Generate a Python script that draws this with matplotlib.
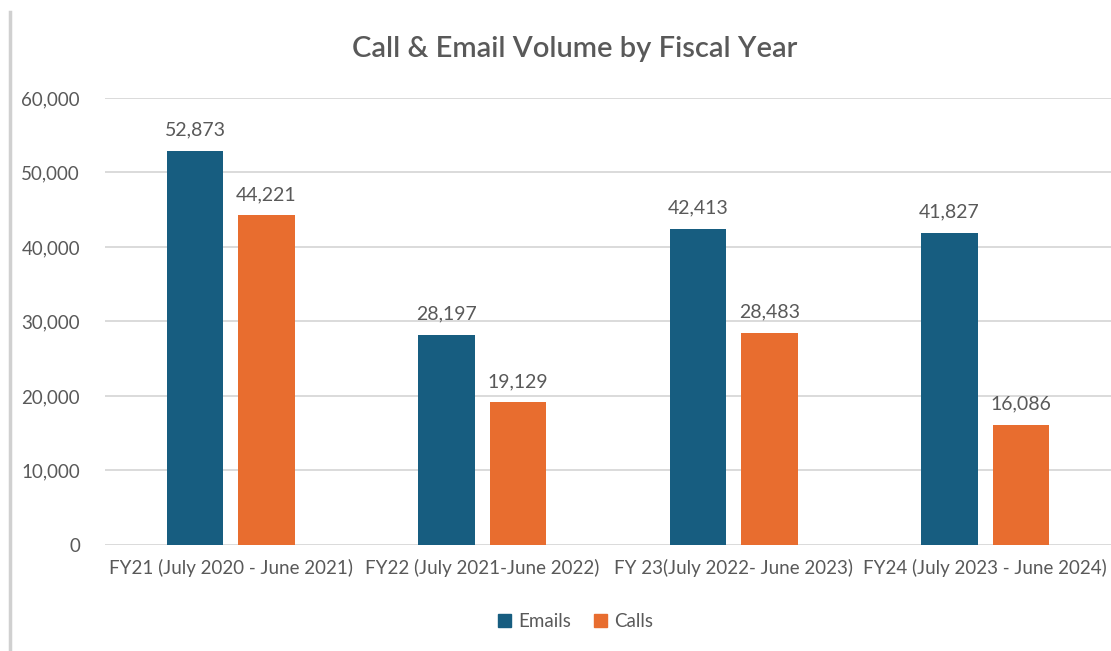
import matplotlib
matplotlib.use("Agg")
import matplotlib.pyplot as plt
from matplotlib.lines import Line2D
from matplotlib.patches import Patch
import numpy as np

categories = ["FY21 (July 2020 - June 2021)", "FY22 (July 2021-June 2022)",
              "FY 23(July 2022- June 2023)", "FY24 (July 2023 - June 2024)"]
emails = [52873, 28197, 42413, 41827]
calls = [44221, 19129, 28483, 16086]
series_names = ["Emails", "Calls"]
yticks = [0, 10000, 20000, 30000, 40000, 50000, 60000]

BLUE = "#175d80"
ORANGE = "#e86d2f"
TEXT = "#595959"
GRID = "#d4d4d4"

plt.rcParams['font.family'] = ['Lato', 'DejaVu Sans']

fig = plt.figure(figsize=(11.11, 6.51), dpi=100)
ax = fig.add_axes([0.0945, 0.163, 0.9055, 0.6866])

x = np.arange(len(categories))
w = 0.226
off = 0.142
b1 = ax.bar(x - off, emails, w, color=BLUE, zorder=3)
b2 = ax.bar(x + off, calls, w, color=ORANGE, zorder=3)

for bars in (b1, b2):
    for r in bars:
        ax.annotate(f"{int(r.get_height()):,}", (r.get_x() + r.get_width() / 2, r.get_height()),
                    xytext=(0, 9), textcoords="offset points", ha="center", va="bottom",
                    fontsize=14, color=TEXT)

ax.set_xlim(-0.5, 3.5)
ax.set_ylim(0, 60000)
ax.set_yticks(yticks)
ax.set_yticklabels([f"{v:,}" for v in yticks])
ax.set_xticks(x)
ax.set_xticklabels(categories)
ax.tick_params(axis='both', length=0, colors=TEXT, labelsize=13.5)
ax.tick_params(axis='y', pad=18)
ax.tick_params(axis='x', pad=10)
ax.grid(axis='y', color=GRID, linewidth=1.2, zorder=0)
for s in ax.spines.values():
    s.set_visible(False)

fig.text(0.5175, 0.925, "Call & Email Volume by Fiscal Year", ha="center", va="center",
         fontsize=21, fontweight="semibold", color=TEXT)

handles = [Patch(color=BLUE), Patch(color=ORANGE)]
fig.legend(handles, series_names, loc="center", bbox_to_anchor=(0.518, 0.045), ncol=2,
           frameon=False, fontsize=13.5, labelcolor=TEXT, handlelength=0.7, handleheight=0.7,
           handletextpad=0.4, columnspacing=1.2)

fig.add_artist(Line2D([0.009, 0.009], [0.0, 0.982], color="#d0d0d0", linewidth=2.5,
                      transform=fig.transFigure))

fig.savefig("out.png", dpi=100, facecolor="white")
